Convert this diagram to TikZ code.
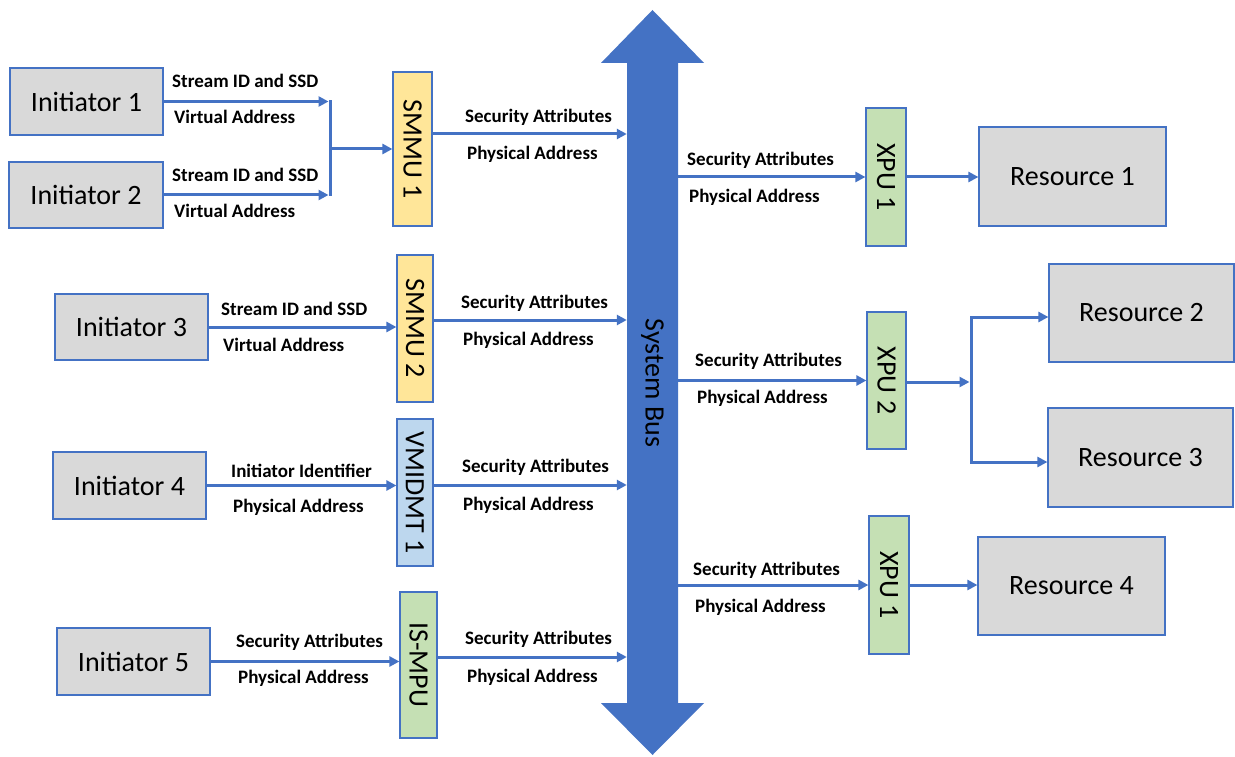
\documentclass[tikz,border=0pt]{standalone}
\usepackage{fontspec}
\setmainfont{Carlito}
\usepackage{graphicx}
\usetikzlibrary{arrows.meta}
\definecolor{bblue}{HTML}{4472C4}
\definecolor{bgray}{HTML}{D9D9D9}
\definecolor{byel}{HTML}{FFE699}
\definecolor{bgreen}{HTML}{C5E0B4}
\definecolor{blight}{HTML}{BDD7EE}
\begin{document}
\begin{tikzpicture}[x=1pt,y=-1pt,
  initbox/.style={draw=bblue,line width=1.2pt,fill=bgray,inner sep=0pt,font=\fontsize{28}{30}\selectfont},
  unitbox/.style={draw=bblue,line width=1.2pt,inner sep=0pt,font=\fontsize{28}{30}\selectfont},
  arr/.style={bblue,line width=3pt,-{Triangle[length=10pt,width=10pt]}},
  bar/.style={bblue,line width=3pt,line cap=rect},
  lbl/.style={anchor=west,inner sep=0pt,text height=14pt,text depth=3pt,font=\bfseries\fontsize{19}{21}\selectfont}
]
\fill[white] (0,0) rectangle (1235,757);
\useasboundingbox (0,0) rectangle (1235,757);

% system bus
\fill[bblue] (627,63) -- (601,63) -- (652.5,10) -- (704,63) -- (678,63) -- (678,703) -- (704,703) -- (652.5,755) -- (601,703) -- (627,703) -- cycle;
\node[inner sep=0pt,minimum width=51pt,minimum height=640pt,font=\fontsize{28}{30}\selectfont] (bus) at (652.5,383) {\rotatebox{-90}{System Bus}};

% initiators
\node[initbox,minimum width=153pt,minimum height=67pt] (i1) at (86.5,101.5) {Initiator 1};
\node[initbox,minimum width=154pt,minimum height=66pt] (i2) at (86,195) {Initiator 2};
\node[initbox,minimum width=153pt,minimum height=66pt] (i3) at (131.5,327) {Initiator 3};
\node[initbox,minimum width=153pt,minimum height=67pt] (i4) at (129.5,485.5) {Initiator 4};
\node[initbox,minimum width=153pt,minimum height=67pt] (i5) at (133.5,661.5) {Initiator 5};

% units
\node[unitbox,fill=byel,minimum width=39pt,minimum height=154pt] (smmu1) at (412.5,149) {\rotatebox{-90}{SMMU 1}};
\node[unitbox,fill=byel,minimum width=36pt,minimum height=147pt] (smmu2) at (415,328.5) {\rotatebox{-90}{SMMU 2}};
\node[unitbox,fill=blight,minimum width=36pt,minimum height=147pt] (vmidmt) at (415,492.5) {\rotatebox{-90}{VMIDMT 1}};
\node[unitbox,fill=bgreen,minimum width=37pt,minimum height=146pt] (ismpu) at (418.5,665) {\rotatebox{-90}{IS-MPU}};
\node[unitbox,fill=bgreen,minimum width=40pt,minimum height=138pt] (xpu1) at (886,177) {\rotatebox{-90}{XPU 1}};
\node[unitbox,fill=bgreen,minimum width=39pt,minimum height=137pt] (xpu2) at (886.5,380.5) {\rotatebox{-90}{XPU 2}};
\node[unitbox,fill=bgreen,minimum width=40pt,minimum height=138pt] (xpu3) at (889,585) {\rotatebox{-90}{XPU 1}};

% resources
\node[initbox,minimum width=187pt,minimum height=99pt] (r1) at (1072.5,176.5) {Resource 1};
\node[initbox,minimum width=185pt,minimum height=98pt] (r2) at (1141.5,313) {Resource 2};
\node[initbox,minimum width=185pt,minimum height=99pt] (r3) at (1140.5,457.5) {Resource 3};
\node[initbox,minimum width=187pt,minimum height=98pt] (r4) at (1071.5,586) {Resource 4};

% connectors left
\coordinate (j1) at (330,149);
\draw[arr,shorten >=1.5pt] (i1.east) -- (i1.east -| j1);
\draw[arr,shorten >=1.5pt] (i2.east) -- (i2.east -| j1);
\draw[bar] (i1.east -| j1) -- (i2.east -| j1);
\draw[arr] (j1) -- (j1 -| smmu1.west);
\draw[arr] (smmu1.east |- 0,134) -- (bus.west |- 0,134);
\draw[arr] (i3.east) -- (i3.east -| smmu2.west);
\draw[arr] (smmu2.east |- 0,320) -- (bus.west |- 0,320);
\draw[arr] (i4.east) -- (i4.east -| vmidmt.west);
\draw[arr] (vmidmt.east |- 0,485) -- (bus.west |- 0,485);
\draw[arr] (i5.east) -- (i5.east -| ismpu.west);
\draw[arr] (ismpu.east |- 0,657) -- (bus.west |- 0,657);

% connectors right
\draw[arr] (bus.east |- xpu1.west) -- (xpu1.west);
\draw[arr] (xpu1.east) -- (xpu1.east -| r1.west);
\draw[arr] (bus.east |- xpu2.west) -- (xpu2.west);
\coordinate (j2) at (971,382);
\draw[arr,shorten >=1.5pt] (xpu2.east |- j2) -- (j2);
\draw[bar] (j2 |- 0,317) -- (j2 |- 0,462);
\draw[arr] (j2 |- 0,317) -- (r2.west |- 0,317);
\draw[arr] (j2 |- 0,462) -- (r3.west |- 0,462);
\draw[arr] (bus.east |- xpu3.west) -- (xpu3.west);
\draw[arr] (xpu3.east) -- (xpu3.east -| r4.west);

% labels
\node[lbl] (l1a) at (172,82) {Stream ID and SSD};
\node[lbl] (l1b) at (174,118) {Virtual Address};
\node[lbl] (l2a) at (172,176) {Stream ID and SSD};
\node[lbl] (l2b) at (174,212) {Virtual Address};
\node[lbl] (l3a) at (221,310) {Stream ID and SSD};
\node[lbl] (l3b) at (223,346) {Virtual Address};
\node[lbl] (l4a) at (231,472) {Initiator Identifier};
\node[lbl] (l4b) at (233,507) {Physical Address};
\node[lbl] (l5a) at (236,642) {Security Attributes};
\node[lbl] (l5b) at (238,678) {Physical Address};
\node[lbl] (s1a) at (465,117) {Security Attributes};
\node[lbl] (s1b) at (467,154) {Physical Address};
\node[lbl] (s2a) at (461,303) {Security Attributes};
\node[lbl] (s2b) at (463,340) {Physical Address};
\node[lbl] (s3a) at (462,467) {Security Attributes};
\node[lbl] (s3b) at (463,505) {Physical Address};
\node[lbl] (s4a) at (465,639) {Security Attributes};
\node[lbl] (s4b) at (467,677) {Physical Address};
\node[lbl] (x1a) at (687,160) {Security Attributes};
\node[lbl] (x1b) at (689,197) {Physical Address};
\node[lbl] (x2a) at (695,361) {Security Attributes};
\node[lbl] (x2b) at (697,398) {Physical Address};
\node[lbl] (x3a) at (693,570) {Security Attributes};
\node[lbl] (x3b) at (695,607) {Physical Address};
\end{tikzpicture}
\end{document}
